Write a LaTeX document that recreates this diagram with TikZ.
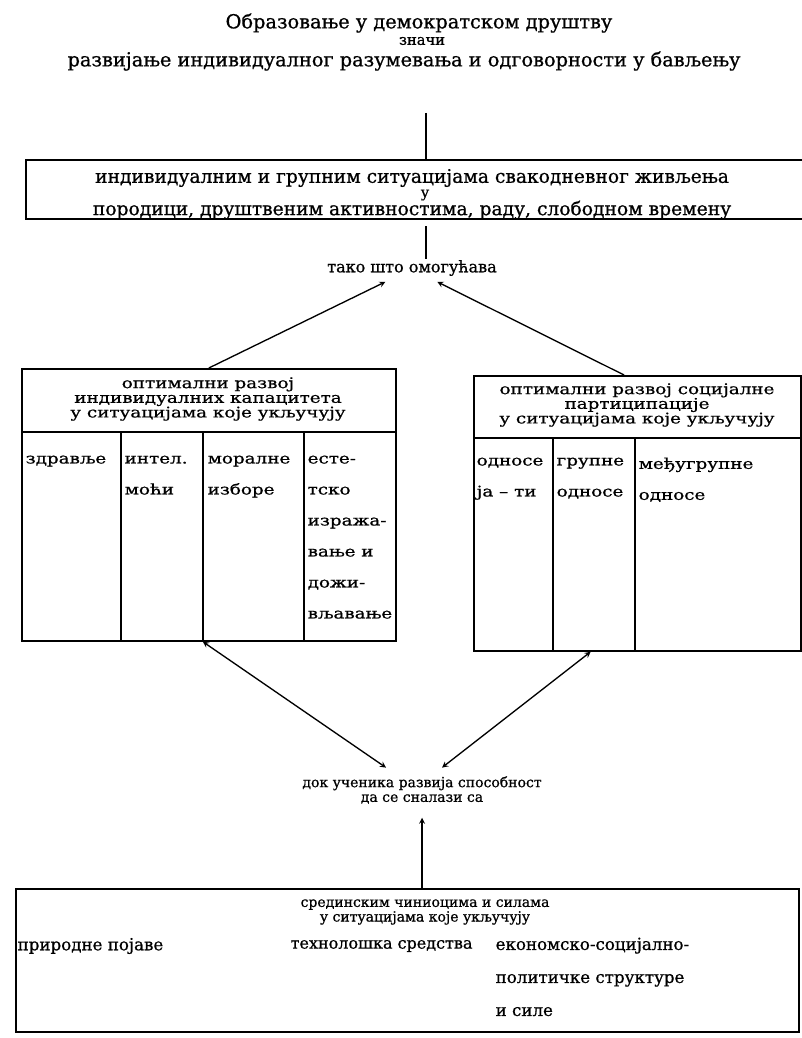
\documentclass[tikz,border=0pt]{standalone}
\usepackage{fontspec}
\setmainfont[FakeBold=0.8]{DejaVu Serif}
\newfontfamily\wideserif[FakeStretch=1.25,FakeBold=0.8]{DejaVu Serif}
\usetikzlibrary{positioning}
\begin{document}
\begin{tikzpicture}[x=0.75pt,y=-0.75pt,>=stealth,line width=1pt,
  txt/.style={inner sep=0pt,font=\fontsize{14}{15}\selectfont},
  small/.style={inner sep=0pt,align=center,font=\fontsize{10.5}{11}\selectfont},
  hdr/.style={inner sep=0pt,align=center,font=\wideserif\fontsize{11}{11}\selectfont},
  cell/.style={inner sep=0pt,anchor=north west,align=left,font=\wideserif\fontsize{11}{23.25}\selectfont},
  item/.style={inner sep=0pt,font=\fontsize{12.5}{24.75}\selectfont},
  frame/.style={draw,line width=1.3pt,inner sep=0pt,anchor=north west}]
\useasboundingbox (0,0) rectangle (802,1038);

\node[txt,font=\fontsize{14.5}{15}\selectfont] (goal) at (419,23) {Образовање у демократском друштву};
\node[txt,font=\fontsize{11}{12}\selectfont] (means) at (422,41) {значи};
\node[txt,font=\fontsize{14.5}{15}\selectfont] (aim) at (404,61) {развијање индивидуалног разумевања и одговорности у бављењу};

\node[frame,minimum width=592.5pt,minimum height=44.25pt] (sit) at (25,159) {};
\node[txt] (sit1) at (412,178) {индивидуалним и групним ситуацијама свакодневног живљења};
\node[txt,font=\fontsize{11}{12}\selectfont] (sit2) at (425,195) {у};
\node[txt] (sit3) at (412,210) {породици, друштвеним активностима, раду, слободном времену};
\coordinate (top1) at (426,113);
\draw (top1) -- (top1 |- sit.north);

\node[txt,font=\fontsize{12}{14}\selectfont] (so) at (412,268) {тако што омогућава};
\coordinate (mid1) at (426,226);
\draw (mid1) -- (mid1 |- so.north);

% left table
\node[frame,minimum width=280.5pt,minimum height=204pt] (cap) at (21,368) {};
\node[hdr] (caph) at (208,399) {оптимални развој\\индивидуалних капацитета\\у ситуацијама које укључују};
\draw (cap.west |- 0,432) -- (cap.east |- 0,432);
\foreach \x in {121,203,304} \draw (\x,432) -- (\x,432 |- cap.south);
\node[cell] (health) at (25,455) {здравље};
\node[cell] (intel) at (124,455) {интел.\\моћи};
\node[cell] (moral) at (207,455) {моралне\\изборе};
\node[cell] (art) at (307,455) {есте-\\тско\\изража-\\вање и\\дожи-\\вљавање};

% right table
\node[frame,minimum width=245.25pt,minimum height=206.25pt] (par) at (473,375) {};
\node[hdr] (parh) at (637,405) {оптимални развој социјалне\\партиципације\\у ситуацијама које укључују};
\draw (par.west |- 0,438) -- (par.east |- 0,438);
\foreach \x in {553,635} \draw (\x,438) -- (\x,438 |- par.south);
\node[cell] (you) at (476,457) {односе\\ја – ти};
\node[cell] (group) at (556,457) {групне\\односе};
\node[cell] (inter) at (638,457) {међугрупне\\односе};

\draw[->] (cap.north) -- ([xshift=-20pt,yshift=-4pt]so.south);
\draw[->] ([xshift=-10pt]par.north) -- ([xshift=19pt,yshift=-4pt]so.south);

\node[small] (dok) at (422,790) {док ученика развија способност\\да се сналази са};
\draw[<->] ([xshift=-4.5pt]cap.south) -- ([xshift=-27pt,yshift=6pt]dok.north);
\draw[<->] ([xshift=-35pt]par.south) -- ([xshift=15pt,yshift=6pt]dok.north);

% bottom box
\node[frame,minimum width=587.25pt,minimum height=107.25pt] (env) at (15,888) {};
\node[small] (envh) at (425,912) {срединским чиниоцима и силама\\у ситуацијама које укључују};
\draw[->] (dok.south |- env.north) -- ([yshift=-10pt]dok.south);
\node[item,anchor=west] (nat) at (17,946) {природне појаве};
\node[item,anchor=west,font=\fontsize{12}{13}\selectfont] (tech) at (290,946) {технолошка средства};
\node[item,anchor=north west,align=left] (eco) at (495,937) {економско-социјално-\\политичке структуре\\и силе};
\end{tikzpicture}
\end{document}
